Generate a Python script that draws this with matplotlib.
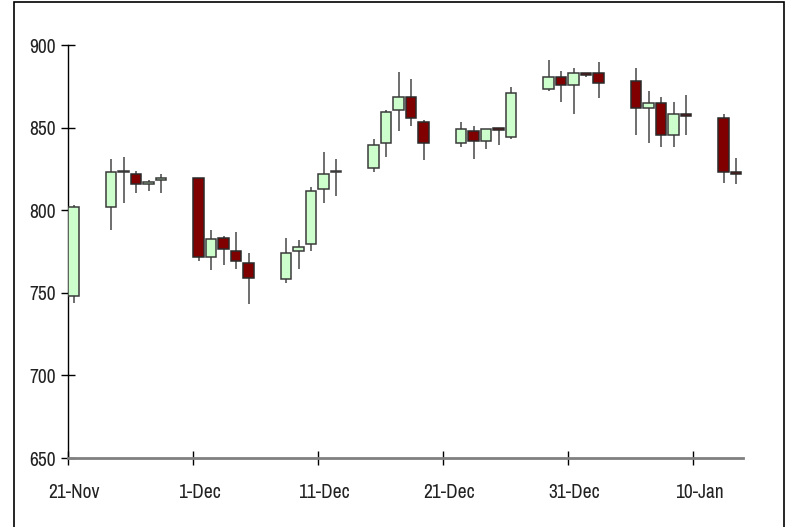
import numpy as np
import pandas as pd
import matplotlib
matplotlib.use("Agg")
import matplotlib.pyplot as plt
from matplotlib import font_manager
from matplotlib.patches import Rectangle

# pick a narrow face (regular/light) if one is installed
wmap = {'light': 300, 'normal': 400, 'regular': 400, 'book': 400, 'medium': 500,
        'semibold': 600, 'bold': 700, 'heavy': 800, 'black': 900, 'ultralight': 200}
cands = []
for f in font_manager.fontManager.ttflist:
    if ('Narrow' in f.name or 'Condensed' in f.name or f.stretch in ('condensed', 'semi-condensed')) \
            and f.style == 'normal':
        w = f.weight if isinstance(f.weight, int) else wmap.get(str(f.weight).lower(), 400)
        cands.append((abs(w - 350), f.name, f.fname))
cands.sort()
if cands:
    tick_font = font_manager.FontProperties(fname=cands[0][2], size=14)
else:
    tick_font = font_manager.FontProperties(family='DejaVu Sans', size=11)

# daily OHLC
dates = ['2014-11-21', '2014-11-24', '2014-11-25', '2014-11-26', '2014-11-27', '2014-11-28',
         '2014-12-01', '2014-12-02', '2014-12-03', '2014-12-04', '2014-12-05',
         '2014-12-08', '2014-12-09', '2014-12-10', '2014-12-11', '2014-12-12',
         '2014-12-15', '2014-12-16', '2014-12-17', '2014-12-18', '2014-12-19',
         '2014-12-22', '2014-12-23', '2014-12-24', '2014-12-25', '2014-12-26',
         '2014-12-29', '2014-12-30', '2014-12-31', '2015-01-01', '2015-01-02',
         '2015-01-05', '2015-01-06', '2015-01-07', '2015-01-08', '2015-01-09',
         '2015-01-12', '2015-01-13']
opens = [748, 802, 823, 822, 815.7, 818,
         819.3, 771.7, 783, 775.5, 767.9,
         758.2, 775.5, 779.4, 813, 823,
         825.5, 840.7, 860.7, 868.3, 853.2,
         840.9, 848.1, 842.1, 849.6, 844.5,
         873.2, 880.8, 875.6, 883.2, 883.2,
         878.2, 862, 864.7, 845.5, 858.2,
         855.6, 823.1]
highs = [803, 831, 832, 824, 818.3, 822,
         819.5, 788, 784.4, 786.8, 774.3,
         783, 782, 814.2, 835, 831,
         843.3, 860.7, 883.5, 879.6, 854.6,
         853.4, 851, 849.3, 849.6, 874.8,
         891, 884.4, 885.9, 883.2, 889.5,
         885.9, 872, 868.3, 865.7, 869.7,
         858, 831.8]
lows = [744, 788, 804.5, 810.5, 811.8, 810.6,
        769.3, 764, 766.6, 764.2, 743,
        755.7, 764.2, 775.5, 804.2, 808.6,
        823.1, 832, 848.1, 850.8, 830.6,
        838, 830.8, 836.9, 839.3, 843.3,
        872, 865.7, 858, 880.8, 868,
        845.5, 840.5, 838, 838, 845.5,
        816.6, 815.7]
closes = [801.8, 823, 823.4, 816, 817, 819.5,
          771.7, 782.8, 776.7, 769.3, 759.1,
          774.3, 777.9, 811.8, 821.7, 823.4,
          839.3, 859.4, 868.3, 855.8, 840.7,
          849.3, 842.1, 849.3, 848.4, 870.8,
          880.8, 875.6, 883.2, 882, 876.8,
          861.9, 864.7, 845.5, 858.2, 856.8,
          823, 821.7]

tick_labels = ['21-Nov', '1-Dec', '11-Dec', '21-Dec', '31-Dec', '10-Jan']

start = pd.Timestamp('2014-11-21')
days = np.array([(pd.Timestamp(d) - start).days for d in dates], dtype=float)
o = np.array(opens)
c = np.array(closes)
h = np.array(highs)
l = np.array(lows)

fig = plt.figure(figsize=(7.89, 5.27), dpi=100)
ax = fig.add_axes([0.0862, 0.1309, 0.8555, 0.7837])

xc = days + 0.44
up = c >= o
body_lo = np.minimum(o, c)
body_h = np.maximum(np.abs(c - o), 0.6)

ax.vlines(xc, l, h, color='#555555', lw=1.2, zorder=2)
ax.bar(xc[up], body_h[up], bottom=body_lo[up], width=0.85,
       color='#ccffcc', edgecolor='#3a3a3a', lw=1.1, zorder=3)
ax.bar(xc[~up], body_h[~up], bottom=body_lo[~up], width=0.85,
       color='#800000', edgecolor='#2a2a2a', lw=1.1, zorder=3)

ax.set_xlim(0, 54)
ax.set_ylim(650, 900)
ax.set_yticks(np.arange(650, 901, 50))

ax.set_xticks(np.arange(0, 51, 10))
ax.set_xticklabels([])
ax.set_xticks(np.arange(0, 51, 10) + 0.5, minor=True)
ax.set_xticklabels(tick_labels, minor=True)
ax.tick_params(axis='x', which='major', direction='inout', length=10, width=1, color='black')
ax.tick_params(axis='x', which='minor', length=0, pad=18)
ax.tick_params(axis='y', direction='inout', length=10, width=1, pad=4)
for lab in ax.get_xticklabels(minor=True) + ax.get_yticklabels():
    lab.set_fontproperties(tick_font)
    lab.set_color('#222222')

for s in ['top', 'right']:
    ax.spines[s].set_visible(False)
ax.spines['bottom'].set_color('#808080')
ax.spines['bottom'].set_linewidth(2)
ax.spines['left'].set_color('black')
ax.spines['left'].set_linewidth(1)

# outer frame
fig.add_artist(Rectangle((14 / 789, -0.05), (784 - 14) / 789, 1.05 - 2 / 527,
                         transform=fig.transFigure, fill=False,
                         edgecolor='black', lw=1.2, clip_on=False))

fig.savefig('out.png', dpi=100)
